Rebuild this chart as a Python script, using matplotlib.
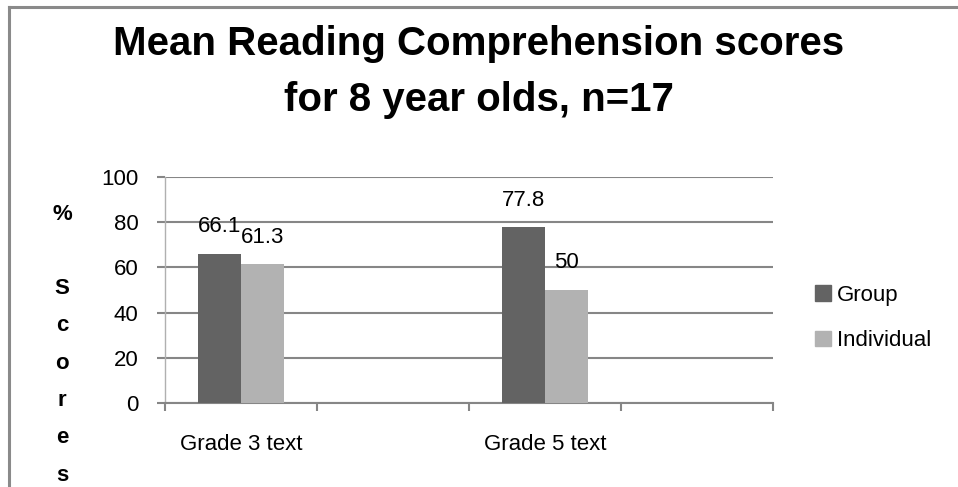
import matplotlib.pyplot as plt
import numpy as np
from matplotlib.patches import Patch

# categories (2nd and 4th slots are empty in the original sheet)
categories = ["Grade 3 text", "", "Grade 5 text", ""]
group = [66.1, np.nan, 77.8, np.nan]
individual = [61.3, np.nan, 50, np.nan]
series_names = ["Group", "Individual"]
colors = ["#636363", "#b2b2b2"]

plt.rcParams['font.family'] = ['Liberation Sans', 'DejaVu Sans']
body = 16

fig = plt.figure(figsize=(9.58, 4.87), dpi=100)
W, H = 958, 487
ax = fig.add_axes([165 / W, (H - 403) / H, (773 - 165) / W, (403 - 177) / H])

x = np.arange(len(categories))
w = 0.283
b1 = ax.bar(x - w / 2, group, w, color=colors[0], zorder=3)
b2 = ax.bar(x + w / 2, individual, w, color=colors[1], zorder=3)

for bars, vals in [(b1, group), (b2, individual)]:
    for bar, v in zip(bars, vals):
        if np.isnan(v):
            continue
        ax.annotate('{:g}'.format(v),
                    xy=(bar.get_x() + bar.get_width() / 2, v),
                    xytext=(0, 12), textcoords="offset points",
                    ha='center', va='bottom', fontsize=body)

ax.set_xlim(-0.5, len(categories) - 0.5)
ax.set_ylim(0, 100)
ax.set_yticks(range(0, 101, 20))
ax.set_xticks(np.arange(len(categories) + 1) - 0.5)
ax.set_xticklabels([])
ax.set_xticks(x, minor=True)
ax.set_xticklabels(categories, minor=True)
ax.tick_params(axis='x', which='minor', length=0, pad=22, labelsize=body)
ax.tick_params(axis='x', which='major', length=6, color='#868686', width=1.5)
ax.tick_params(axis='y', length=6, color='#868686', width=1.5, labelsize=body, pad=13)
ax.grid(axis='y', color='#868686', linewidth=1.5, zorder=0)
for s in ['top', 'right']:
    ax.spines[s].set_visible(False)
ax.spines['left'].set_color('#b0b0b0')
ax.spines['left'].set_linewidth(1)
ax.spines['bottom'].set_color('#868686')
ax.spines['bottom'].set_linewidth(1.5)

# stacked y label
ylab = ["%", "", "S", "c", "o", "r", "e", "s"]
for i, ch in enumerate(ylab):
    fig.text(62 / W, 1 - (214 + i * 37.3) / H, ch, ha='center', va='center',
             fontsize=16, fontweight='bold')

fig.text(0.5, 1 - 44 / H, "Mean Reading Comprehension scores",
         ha='center', va='center', fontsize=29, fontweight='bold')
fig.text(0.5, 1 - 100 / H, "for 8 year olds, n=17",
         ha='center', va='center', fontsize=29, fontweight='bold')

handles = [Patch(color=c, label=n) for c, n in zip(colors, series_names)]
fig.legend(handles=handles, loc='center left', bbox_to_anchor=(795 / W, 1 - 318 / H),
           frameon=False, fontsize=body, handlelength=0.7, handleheight=0.7,
           handletextpad=0.3, labelspacing=1.1)

# page border (left and top)
fig.add_artist(plt.Line2D([8.5 / W, 8.5 / W], [0, 1 - 6.5 / H], color='#8a8a8a', lw=2.2))
fig.add_artist(plt.Line2D([8.5 / W, 1], [1 - 6.5 / H, 1 - 6.5 / H], color='#8a8a8a', lw=2.2))

fig.savefig("out.png", dpi=100)
